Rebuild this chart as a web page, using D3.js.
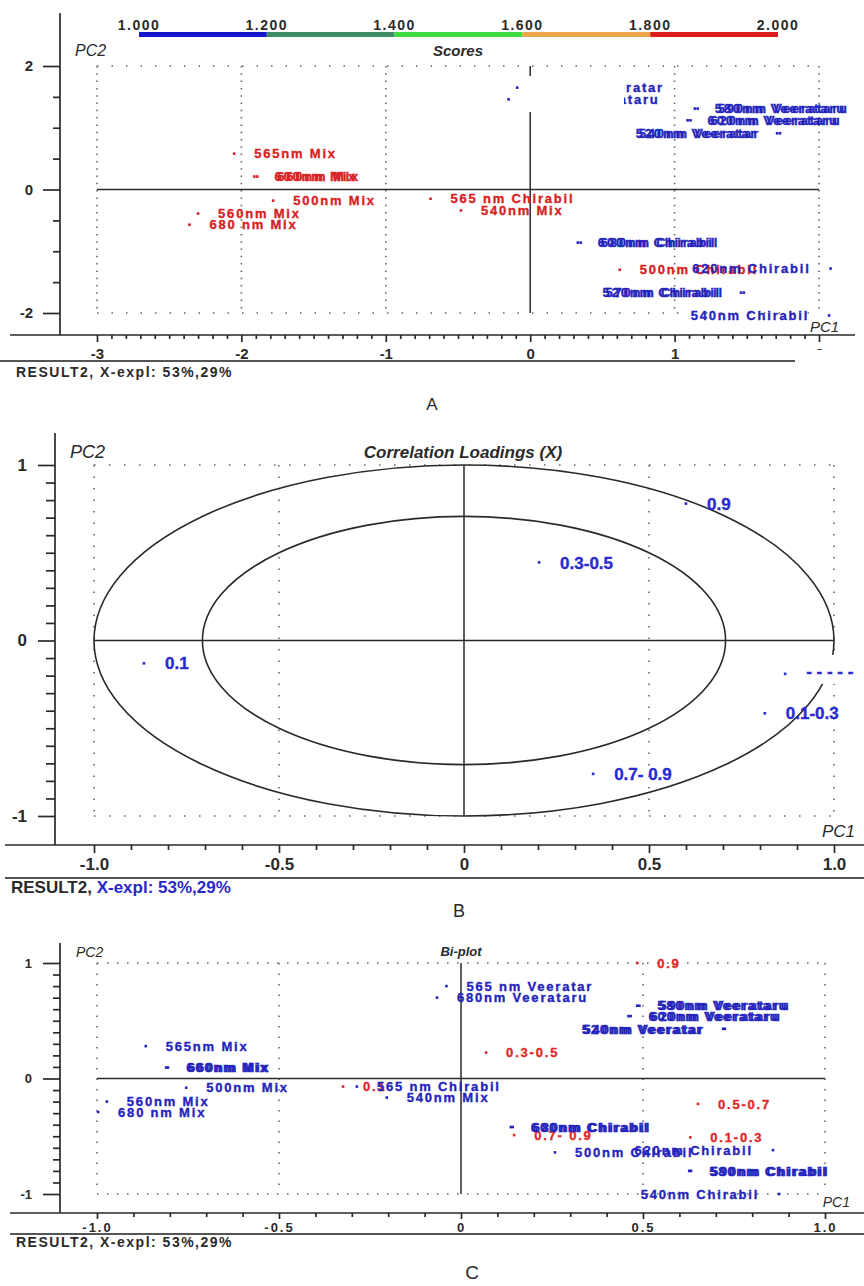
<!DOCTYPE html>
<meta charset="utf-8">
<style>
    body { margin: 0; background: #fff; }
    text { font-family: "Liberation Sans", Arial, sans-serif; }
</style>
<body>
<svg width="864" height="1286"></svg>
<script src="https://d3js.org/d3.v7.min.js"></script>
<script>
    // ---------- data ----------
    // Panel A: PCA scores  [label, PC1, PC2]
    var scoresRedA = [
        ["565nm Mix", -2.05, 0.58],
        ["600nm Mix", -1.91, 0.21],
        ["660nm Mix", -1.89, 0.21],
        ["500nm Mix", -1.78, -0.18],
        ["560nm Mix", -2.30, -0.39],
        ["680 nm Mix", -2.36, -0.57],
        ["565 nm Chirabil", -0.69, -0.15],
        ["540nm  Mix", -0.48, -0.34],
        ["500nm Chirabil", 0.62, -1.30]
    ];
    var scoresBlueA = [
        ["565 nm Veeratar", -0.09, 1.65],
        ["680nm Veerataru", -0.15, 1.46],
        ["580nm Veerataru", 1.14, 1.31],
        ["590nm Veerataru", 1.16, 1.31],
        ["600nm Veerataru", 1.09, 1.12],
        ["620nm Veerataru", 1.11, 1.12],
        ["540nm Veeratar", 1.73, 0.91],
        ["520nm Veeratar", 1.71, 0.91],
        ["600nm Chirabil", 0.33, -0.86],
        ["680nm Chirabil", 0.35, -0.86],
        ["620nm Chirabil", 2.08, -1.28],
        ["570nm Chirabil", 1.48, -1.67],
        ["520nm Chirabil", 1.46, -1.67],
        ["540nm Chirabil", 2.07, -2.04]
    ];
    var leftLabelsA = ["540nm Veeratar", "520nm Veeratar", "620nm Chirabil",
        "570nm Chirabil", "520nm Chirabil", "540nm Chirabil"];
    var scoreBarStops = [1.0, 1.2, 1.4, 1.6, 1.8, 2.0];
    var scoreBarColors = ["#1616cc", "#3f8c66", "#3fdc3f", "#eea64c", "#dc1e1e"];
    var ticksAx = [-3, -2, -1, 0, 1, 2];
    var ticksAy = [-2, 0, 2];

    // Panel B: correlation loadings [label, PC1, PC2]
    var loadingsB = [
        ["0.9", 0.60, 0.78],
        ["0.3-0.5", 0.203, 0.445],
        ["0.1", -0.865, -0.13],
        ["0.1-0.3", 0.813, -0.415],
        ["0.7- 0.9", 0.349, -0.76],
        ["- - - - -", 0.868, -0.19]
    ];
    var maskedLabelsB = ["- - - - -"];
    var ellipseRadii = [1, 0.707];
    var ticksBx = [-1, -0.5, 0, 0.5, 1];
    var ticksBy = [-1, 0, 1];

    // Panel C: bi-plot [label, PC1, PC2]
    var biScoresC = [
        ["565nm Mix", -0.866, 0.28],
        ["600nm Mix", -0.81, 0.095],
        ["660nm Mix", -0.805, 0.095],
        ["500nm Mix", -0.755, -0.08],
        ["560nm Mix", -0.973, -0.20],
        ["680 nm Mix", -0.997, -0.29],
        ["540nm  Mix", -0.204, -0.165],
        ["565 nm Veeratar", -0.04, 0.80],
        ["680nm Veerataru", -0.066, 0.70],
        ["580nm Veerataru", 0.484, 0.63],
        ["590nm Veerataru", 0.49, 0.63],
        ["600nm Veerataru", 0.46, 0.54],
        ["620nm Veerataru", 0.466, 0.54],
        ["540nm Veeratar", 0.725, 0.43],
        ["520nm Veeratar", 0.72, 0.43],
        ["600nm Chirabil", 0.137, -0.42],
        ["680nm Chirabil", 0.142, -0.42],
        ["500nm Chirabil", 0.258, -0.64],
        ["620nm Chirabil", 0.857, -0.62],
        ["580nm Chirabil", 0.627, -0.80],
        ["590nm Chirabil", 0.632, -0.80],
        ["540nm Chirabil", 0.874, -1.0]
    ];
    var biLoadingsC = [
        ["0.9", 0.484, 1.0],
        ["0.3-0.5", 0.069, 0.225],
        ["0.5-0.7", 0.651, -0.22],
        ["0.7- 0.9", 0.146, -0.49],
        ["0.1-0.3", 0.63, -0.51],
        ["0.1", -0.324, -0.07]
    ];
    var biTopC = [["565 nm Chirabil", -0.286, -0.07]];
    var leftLabelsC = ["540nm Veeratar", "520nm Veeratar", "620nm Chirabil", "540nm Chirabil"];
    var ticksCx = [-1, -0.5, 0, 0.5, 1];
    var ticksCy = [-1, 0, 1];

    var RED = "#d82222", BLUE = "#2424bc", INK = "#2a2a2a";

    var svg = d3.select("svg");
    svg.append("rect").attr("width", 864).attr("height", 1286).attr("fill", "#fff");

    function fmt0(d) { return String(d); }
    function fmt1(d) { return d === 0 ? "0" : d.toFixed(1); }
    function minorOf(lo, hi, step, major) {
        return d3.range(Math.round(lo / step), Math.round(hi / step) + 1)
            .map(function(i) { return +(i * step).toFixed(3); })
            .filter(function(v) { return major.indexOf(v) < 0; });
    }

    // axes frame, ticks, separators
    function frame(c) {
        var g = svg.append("g");
        var ya = g.append("g").attr("transform", "translate(" + c.yAxisX + ",0)");
        ya.append("g").call(d3.axisLeft(c.y).tickValues(c.yMinor).tickSize(c.yMinorLen).tickFormat(""));
        ya.append("g").call(d3.axisLeft(c.y).tickValues(c.yMajor).tickSize(17).tickPadding(c.yPad).tickFormat(fmt0))
            .attr("font-size", c.yFont);
        var xa = g.append("g").attr("transform", "translate(0," + c.xAxisY + ")");
        xa.append("g").call(d3.axisBottom(c.x).tickValues(c.xMinor).tickSize(c.xMinorLen).tickFormat(""));
        xa.append("g").call(d3.axisBottom(c.x).tickValues(c.xMajor).tickSize(c.xMajorLen).tickPadding(c.xPad).tickFormat(c.fmt))
            .attr("font-size", c.xFont);
        g.selectAll(".domain").remove();
        g.selectAll("g").attr("font-family", null);
        g.selectAll("text").attr("font-weight", "bold").attr("fill", INK);
        xa.selectAll("text").style("letter-spacing", c.spacing || 0);
        g.append("line").attr("x1", c.yAxisX).attr("x2", c.yAxisX).attr("y1", c.yTop).attr("y2", c.xAxisY);
        g.append("line").attr("x1", c.xLeft).attr("x2", c.xRight).attr("y1", c.xAxisY).attr("y2", c.xAxisY);
        g.append("line").attr("x1", c.sepLeft).attr("x2", c.sepRight).attr("y1", c.sepY).attr("y2", c.sepY)
            .attr("stroke", "#555").attr("stroke-width", 2.2);
        g.selectAll("line").filter(function() { return !this.getAttribute("stroke-width"); })
            .attr("stroke", INK).attr("stroke-width", 1.7);
        return g;
    }

    // dotted grid + solid zero lines
    function grid(x, y, xs, ys, hGap, vGap) {
        var g = svg.append("g").attr("stroke", "#666").attr("stroke-width", 1.6);
        var xd = x.domain(), yd = y.domain();
        ys.forEach(function(v) {
            g.append("line").attr("x1", x(xd[0])).attr("x2", x(xd[1])).attr("y1", y(v)).attr("y2", y(v))
                .attr("stroke-dasharray", "1.5," + hGap);
        });
        xs.forEach(function(v) {
            g.append("line").attr("x1", x(v)).attr("x2", x(v)).attr("y1", y(yd[1])).attr("y2", y(yd[0]))
                .attr("stroke-dasharray", "1.5," + vGap);
        });
        var z = svg.append("g").attr("stroke", INK).attr("stroke-width", 1.5);
        z.append("line").attr("x1", x(xd[0])).attr("x2", x(xd[1])).attr("y1", y(0)).attr("y2", y(0));
        z.append("line").attr("x1", x(0)).attr("x2", x(0)).attr("y1", y(yd[1])).attr("y2", y(yd[0]));
    }

    function points(x, y, data, color, o) {
        var g = svg.append("g");
        var left = o.left || [];
        var sel = g.selectAll("g.pt").data(data).enter().append("g").attr("class", "pt")
            .attr("transform", function(d) { return "translate(" + x(d[1]) + "," + y(d[2]) + ")"; });
        sel.append("rect").attr("x", -1.3).attr("y", -1.3).attr("width", 2.6).attr("height", 2.6).attr("fill", color);
        sel.append("text")
            .attr("x", function(d) { return left.indexOf(d[0]) >= 0 ? -o.gap : o.gap; })
            .attr("dy", "0.36em")
            .attr("text-anchor", function(d) { return left.indexOf(d[0]) >= 0 ? "end" : "start"; })
            .attr("font-size", o.size).attr("font-weight", "bold").attr("fill", color)
            .attr("stroke", color).attr("stroke-width", 0.35)
            .style("letter-spacing", o.spacing || 0)
            .text(function(d) { return d[0]; });
        return sel;
    }

    function label(txt, x, y, size, opts) {
        opts = opts || {};
        return svg.append("text").attr("x", x).attr("y", y).attr("font-size", size)
            .attr("font-style", opts.italic ? "italic" : null)
            .attr("font-weight", opts.bold ? "bold" : null)
            .attr("text-anchor", opts.anchor || "start")
            .attr("fill", opts.fill || INK)
            .style("letter-spacing", opts.spacing || 0)
            .text(txt);
    }

    // ================= Panel A =================
    var xA = d3.scaleLinear().domain([-3, 2]).range([97, 819]);
    var yA = d3.scaleLinear().domain([-2, 2]).range([313, 66]);

    grid(xA, yA, [-3, -2, -1, 1, 2], [-2, 2], 13, 5.8);
    points(xA, yA, scoresRedA, RED, { gap: 20, size: 13, spacing: "1.8px" });
    points(xA, yA, scoresBlueA, BLUE, { gap: 20, size: 13, spacing: "1.8px", left: leftLabelsA });
    // white label box that hides part of the top labels in the original
    svg.append("rect").attr("x", 522).attr("y", 76).attr("width", 102).attr("height", 36).attr("fill", "#fff");

    frame({
        x: xA, y: yA, yAxisX: 60, yTop: 13, xAxisY: 335, xLeft: 10, xRight: 855,
        sepY: 361, sepLeft: 0, sepRight: 795,
        yMajor: ticksAy, yMinor: minorOf(-2, 2, 0.5, ticksAy), yMinorLen: 7, yPad: 10, yFont: 15,
        xMajor: ticksAx, xMinor: minorOf(-3, 2, 0.1, ticksAx), xMinorLen: 4, xMajorLen: 7, xPad: 6, xFont: 15,
        fmt: fmt0
    });
    // the "2" tick label is cut off in the original
    svg.append("rect").attr("x", 800).attr("y", 350).attr("width", 40).attr("height", 14).attr("fill", "#fff");

    // score colour bar
    var bar = d3.scaleLinear().domain([1, 2]).range([139, 778]);
    svg.append("g").selectAll("rect").data(scoreBarColors).enter().append("rect")
        .attr("x", function(d, i) { return bar(scoreBarStops[i]); })
        .attr("width", function(d, i) { return bar(scoreBarStops[i + 1]) - bar(scoreBarStops[i]); })
        .attr("y", 32).attr("height", 5)
        .attr("fill", function(d) { return d; });
    svg.append("g").selectAll("text").data(scoreBarStops).enter().append("text")
        .attr("x", function(d) { return bar(d); }).attr("y", 30)
        .attr("text-anchor", "middle").attr("font-size", 14).attr("font-weight", "bold").attr("fill", INK)
        .style("letter-spacing", "1.5px")
        .text(function(d) { return d.toFixed(3); });

    label("PC2", 75, 56, 16, { italic: true });
    label("Scores", 458, 56, 15, { italic: true, bold: true, anchor: "middle" });
    label("PC1", 810, 332, 15, { italic: true });
    label("RESULT2, X-expl: 53%,29%", 16, 377, 14, { bold: true, spacing: "1.5px" });
    label("A", 432, 410, 17, { anchor: "middle" });

    // ================= Panel B =================
    var xB = d3.scaleLinear().domain([-1, 1]).range([94, 834]);
    var yB = d3.scaleLinear().domain([-1, 1]).range([816, 465]);

    grid(xB, yB, [-1, -0.5, 0.5, 1], [-1, 1], 13.5, 10);
    svg.append("g").selectAll("ellipse").data(ellipseRadii).enter().append("ellipse")
        .attr("cx", xB(0)).attr("cy", yB(0))
        .attr("rx", function(r) { return xB(r) - xB(0); })
        .attr("ry", function(r) { return yB(0) - yB(r); })
        .attr("fill", "none").attr("stroke", INK).attr("stroke-width", 1.6);
    var ptsB = points(xB, yB, loadingsB, "#2a2ad0", { gap: 21, size: 17 });
    ptsB.filter(function(d) { return maskedLabelsB.indexOf(d[0]) >= 0; })
        .insert("rect", "text").attr("x", 16).attr("y", -19).attr("width", 70).attr("height", 29).attr("fill", "#fff");
    ptsB.filter(function(d) { return maskedLabelsB.indexOf(d[0]) >= 0; }).select("text").attr("dy", "0.2em");

    frame({
        x: xB, y: yB, yAxisX: 55, yTop: 433, xAxisY: 845, xLeft: 5, xRight: 864,
        sepY: 878, sepLeft: 5, sepRight: 864,
        yMajor: ticksBy, yMinor: minorOf(-1, 1, 0.1, ticksBy), yMinorLen: 9, yPad: 11, yFont: 17,
        xMajor: ticksBx, xMinor: minorOf(-1, 1, 0.1, ticksBx), xMinorLen: 5, xMajorLen: 8, xPad: 5, xFont: 17,
        fmt: fmt1
    });

    label("PC2", 70, 458, 18, { italic: true });
    label("Correlation Loadings (X)", 463, 458, 17, { italic: true, bold: true, anchor: "middle" });
    label("PC1", 855, 837, 17, { italic: true, anchor: "end" });
    var resB = label("RESULT2, ", 11, 893, 17, { bold: true });
    resB.append("tspan").attr("fill", "#2828c8").text("X-expl: 53%,29%");
    label("B", 459, 917, 18, { anchor: "middle" });

    // ================= Panel C =================
    var xC = d3.scaleLinear().domain([-1, 1]).range([97, 825]);
    var yC = d3.scaleLinear().domain([-1, 1]).range([1194, 963]);

    grid(xC, yC, [-1, -0.5, 0.5, 1], [-1, 1], 8.5, 9);
    points(xC, yC, biLoadingsC, "#e02828", { gap: 20, size: 13, spacing: "1.8px" });
    points(xC, yC, biScoresC, BLUE, { gap: 20, size: 13, spacing: "1.8px", left: leftLabelsC });
    points(xC, yC, biTopC, BLUE, { gap: 20, size: 13, spacing: "1.8px" });

    frame({
        x: xC, y: yC, yAxisX: 60, yTop: 943, xAxisY: 1213, xLeft: 10, xRight: 864,
        sepY: 1234, sepLeft: 10, sepRight: 864,
        yMajor: ticksCy, yMinor: minorOf(-1, 1, 0.1, ticksCy), yMinorLen: 7, yPad: 11, yFont: 13,
        xMajor: ticksCx, xMinor: minorOf(-1, 1, 0.1, ticksCx), xMinorLen: 4, xMajorLen: 6, xPad: 4, xFont: 13,
        fmt: fmt1, spacing: "2px"
    });

    label("PC2", 76, 957, 14, { italic: true });
    label("Bi-plot", 461, 956, 13, { italic: true, bold: true, anchor: "middle" });
    label("PC1", 850, 1207, 14, { italic: true, anchor: "end" });
    label("RESULT2, X-expl: 53%,29%", 16, 1247, 14, { bold: true, spacing: "1.5px" });
    label("C", 472, 1279, 19, { anchor: "middle" });
</script>
</body>
